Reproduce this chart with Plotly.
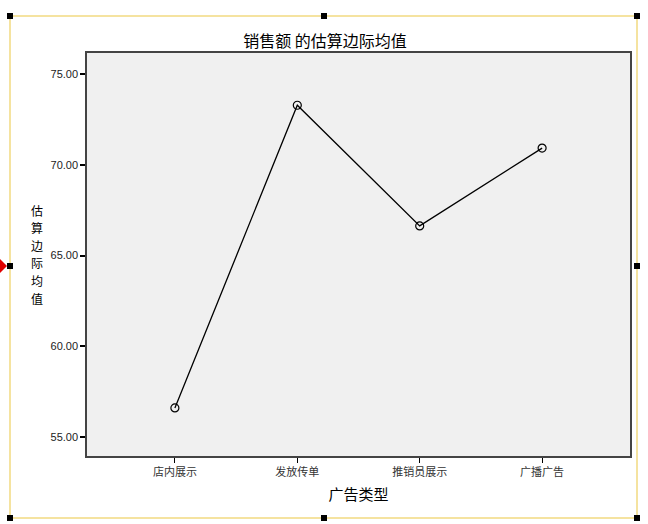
import plotly.graph_objects as go

categories = ["店内展示", "发放传单", "推销员展示", "广播广告"]
means = [56.60, 73.28, 66.63, 70.92]
y_ticks = [55, 60, 65, 70, 75]
y_tick_labels = ["55.00", "60.00", "65.00", "70.00", "75.00"]
y_title_chars = list("估算边际均值")

W, H = 648, 524
L, R, T, B = 87, 630, 53, 456

def px(x):
    return (x - L) / (R - L)

def py(y):
    return (B - y) / (B - T)

fig = go.Figure()
fig.add_trace(go.Scatter(
    x=list(range(len(categories))), y=means, mode="lines+markers",
    line=dict(color="black", width=1.3),
    marker=dict(symbol="circle-open", size=8, color="black", line=dict(width=1.2)),
    hoverinfo="skip", showlegend=False,
))

shapes = []
# selection frame
shapes.append(dict(type="rect", xref="paper", yref="paper",
                   x0=px(10), x1=px(637), y0=py(518), y1=py(16),
                   line=dict(color="#f5e3a0", width=2), layer="below"))
for (hx, hy) in [(10, 16), (324, 16), (637, 16), (10, 266), (637, 266),
                 (10, 518), (324, 518), (637, 518)]:
    shapes.append(dict(type="rect", xref="paper", yref="paper",
                       x0=px(hx - 3), x1=px(hx + 3), y0=py(hy + 3), y1=py(hy - 3),
                       fillcolor="black", line=dict(width=0)))
shapes.append(dict(type="path", xref="paper", yref="paper",
                   path=f"M {px(0)},{py(259)} L {px(7)},{py(266)} L {px(0)},{py(273)} Z",
                   fillcolor="#e00000", line=dict(width=0)))

step = 17.6
n = len(y_title_chars)
annotations = []
for i, ch in enumerate(y_title_chars):
    annotations.append(dict(
        text=ch, xref="paper", yref="paper",
        x=px(37), y=py(254 + (i - (n - 1) / 2) * step), xanchor="center", yanchor="middle",
        showarrow=False,
        font=dict(family="Noto Sans CJK SC", size=12, color="black"),
    ))

fig.update_layout(
    width=W, height=H,
    margin=dict(l=L, r=W - R, t=T, b=H - B),
    paper_bgcolor="white", plot_bgcolor="#f0f0f0",
    title=dict(text="销售额 的估算边际均值", xref="container", x=325 / W, xanchor="center",
               y=1 - 41 / H, yanchor="middle",
               font=dict(family="Noto Sans CJK SC", size=16, color="black")),
    xaxis=dict(
        tickmode="array", tickvals=list(range(len(categories))), ticktext=categories,
        range=[-0.718, 3.718], showgrid=False, zeroline=False,
        ticks="outside", ticklen=5, tickcolor="black", tickwidth=1.2,
        showline=True, linecolor="#444", linewidth=1.5, mirror=True,
        tickfont=dict(family="Noto Sans CJK SC", size=11, color="#333"),
        title=dict(text="广告类型", font=dict(family="Noto Sans CJK SC", size=15, color="black"),
                   standoff=12),
    ),
    yaxis=dict(
        tickmode="array", tickvals=y_ticks, ticktext=y_tick_labels,
        range=[53.95, 76.16], showgrid=False, zeroline=False,
        ticks="outside", ticklen=5, tickcolor="black", tickwidth=1.5,
        showline=True, linecolor="#444", linewidth=1.5, mirror=True,
        tickfont=dict(family="Liberation Sans", size=11, color="#222"),
    ),
    shapes=shapes,
    annotations=annotations,
)

fig.write_html("out.html", config={"displayModeBar": False},
               post_script="document.body.style.margin='0px';document.body.style.overflow='hidden';")
